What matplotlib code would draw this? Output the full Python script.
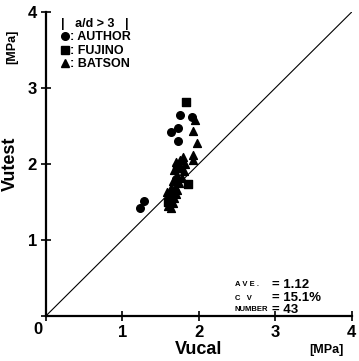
import matplotlib
matplotlib.use('Agg')
import matplotlib.pyplot as plt
from matplotlib.lines import Line2D

plt.rcParams['font.family'] = ['Liberation Sans', 'DejaVu Sans']

# AUTHOR (circles)
author_cal = [1.23, 1.28, 1.63, 1.73, 1.75, 1.91, 1.73, 1.65, 1.70, 1.62]
author_test = [1.42, 1.51, 2.42, 2.47, 2.64, 2.62, 2.30, 1.55, 1.80, 1.48]
# FUJINO (squares)
fujino_cal = [1.83, 1.86, 1.72, 1.68, 1.60]
fujino_test = [2.82, 1.74, 1.95, 1.62, 1.50]
# BATSON (triangles)
batson_cal = [1.95, 1.92, 1.97, 1.92, 1.92, 1.79, 1.75, 1.70, 1.82, 1.76,
              1.68, 1.80, 1.72, 1.78, 1.66, 1.74, 1.69, 1.63, 1.72, 1.65,
              1.60, 1.68, 1.62, 1.66, 1.60, 1.64, 1.70, 1.58]
batson_test = [2.58, 2.43, 2.28, 2.12, 2.05, 2.09, 2.05, 2.02, 2.00, 1.95,
               1.92, 1.90, 1.85, 1.82, 1.78, 1.75, 1.70, 1.68, 1.65, 1.62,
               1.58, 1.55, 1.52, 1.48, 1.45, 1.42, 1.60, 1.63]

ticks = [0, 1, 2, 3, 4]
ave, cv, number = '1.12', '15.1%', '43'

fig = plt.figure(figsize=(3.59, 3.61), dpi=100)
ax = fig.add_axes([0.128, 0.125, 0.852, 0.842])

ax.plot([0, 4], [0, 4], color='black', lw=0.8)
ax.scatter(author_cal, author_test, marker='o', s=30, color='black', zorder=3)
ax.scatter(fujino_cal, fujino_test, marker='s', s=26, color='black', zorder=3)
ax.scatter(batson_cal, batson_test, marker='^', s=32, color='black', zorder=3)

ax.set_xlim(0, 4)
ax.set_ylim(0, 4)
ax.set_xticks(ticks)
ax.set_yticks(ticks)
ax.set_xticklabels([str(t) for t in ticks], fontsize=12, fontweight='bold')
ax.set_yticklabels([str(t) for t in ticks], fontsize=12, fontweight='bold')
ax.tick_params(direction='inout', length=7, width=1.2, pad=3)
for s in ['top', 'right']:
    ax.spines[s].set_visible(False)
for s in ['left', 'bottom']:
    ax.spines[s].set_linewidth(1.6)
ax.get_xticklabels()[0].set_visible(False)
ax.get_yticklabels()[0].set_visible(False)
ax.text(-0.1, -0.08, '0', transform=ax.transData, fontsize=12, fontweight='bold',
        ha='center', va='top')

ax.set_xlabel('Vucal', fontsize=13, fontweight='bold', labelpad=1)
ax.set_ylabel('Vutest', fontsize=13, fontweight='bold', labelpad=6)
fig.text(0.035, 0.87, '[MPa]', rotation=90, fontsize=9, fontweight='bold',
         ha='center', va='center')
fig.text(0.91, 0.03, '[MPa]', fontsize=9, fontweight='bold', ha='center', va='center')

handles = [Line2D([], [], marker='o', ls='', color='black', ms=5.5),
           Line2D([], [], marker='s', ls='', color='black', ms=5.5),
           Line2D([], [], marker='^', ls='', color='black', ms=5.5)]
leg = ax.legend(handles, [': AUTHOR', ': FUJINO', ': BATSON'], title='|   a/d > 3   |',
                loc='upper left', bbox_to_anchor=(0.025, 1.005), frameon=False,
                handlelength=0.6, handletextpad=0.1, labelspacing=0.12,
                borderpad=0.1, prop={'size': 9, 'weight': 'bold'})
leg.get_title().set_fontsize(9)
leg.get_title().set_fontweight('bold')
leg._legend_box.align = 'left'

rows = [('A V E .', ave, 0.102), ('C   V', cv, 0.058), ('NUMBER', number, 0.020)]
for lab, val, yy in rows:
    ax.text(0.618, yy, lab, transform=ax.transAxes, fontsize=5.5, fontweight='bold',
            va='center')
    ax.text(0.74, yy, '= ' + val, transform=ax.transAxes, fontsize=9.5, fontweight='bold',
            va='center')

fig.savefig('out.png', dpi=100)
